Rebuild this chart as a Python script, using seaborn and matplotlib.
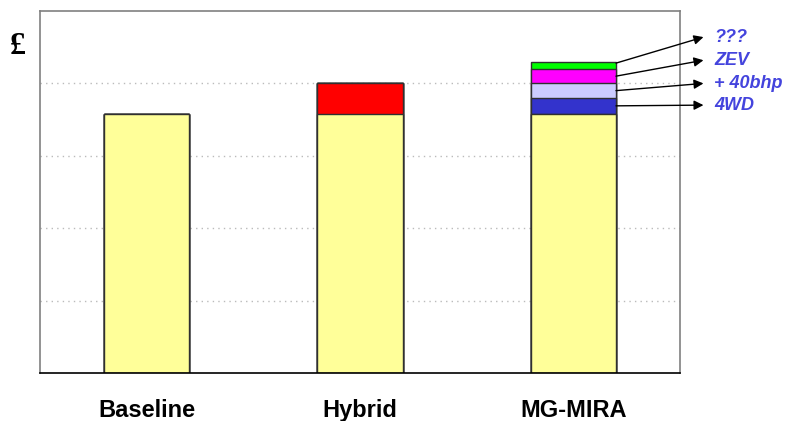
import pandas as pd
import seaborn as sns
import matplotlib.pyplot as plt

# chart data (arbitrary £ units)
categories = ['Baseline', 'Hybrid', 'MG-MIRA']
base_cost = [3.58, 3.58, 3.58]
hybrid_extra = [0.0, 0.42, 0.0]
wd4 = [0.0, 0.0, 0.22]
bhp40 = [0.0, 0.0, 0.20]
zev = [0.0, 0.0, 0.20]
unknown = [0.0, 0.0, 0.10]

addon_labels = ['4WD', '+ 40bhp', 'ZEV', '???']
label_y = [3.70, 4.00, 4.32, 4.64]

layers = [
    ('base', base_cost, '#FFFF99'),
    ('hybrid', hybrid_extra, '#FF0000'),
    ('4WD', wd4, '#3333CC'),
    ('+ 40bhp', bhp40, '#CCCCFF'),
    ('ZEV', zev, '#FF00FF'),
    ('???', unknown, '#00FF00'),
]

sns.set_style('white')
plt.rcParams['font.family'] = ['Liberation Sans', 'DejaVu Sans']
plt.rcParams['text.color'] = 'black'
plt.rcParams['xtick.color'] = 'black'

fig = plt.figure(figsize=(7.85, 4.21), dpi=100)
ax = fig.add_axes([40 / 785, 48 / 421, 640 / 785, 362 / 421])

# cumulative tops, drawn from the top layer down so lower layers cover them
df = pd.DataFrame({'cat': categories})
running = [0.0] * len(categories)
tops = []
for name, vals, col in layers:
    running = [r + v for r, v in zip(running, vals)]
    tops.append((name, list(running), col))

for name, top, col in reversed(tops):
    df['top'] = top
    sns.barplot(data=df, x='cat', y='top', color=col, width=0.4,
                edgecolor='#303030', linewidth=1, saturation=1, ax=ax)

# arrows + labels for the MG-MIRA add-ons
mg = categories.index('MG-MIRA')
bottoms = [base_cost[mg]]
for vals in [wd4, bhp40, zev]:
    bottoms.append(bottoms[-1] + vals[mg])
seg_h = [wd4[mg], bhp40[mg], zev[mg], unknown[mg]]
for lab, b, h, ty in zip(addon_labels, bottoms, seg_h, label_y):
    tail_y = b + h * 0.5 if lab != '???' else b + h * 0.8
    ax.annotate('', xy=(2.61, ty), xytext=(mg + 0.2, tail_y),
                arrowprops=dict(arrowstyle='-|>', color='black', lw=1,
                                mutation_scale=14, shrinkA=0, shrinkB=0),
                annotation_clip=False)
    ax.text(2.66, ty, lab, color='#4444DD', fontsize=13, fontweight='bold',
            fontstyle='italic', va='center', ha='left', clip_on=False)

ax.set_xlim(-0.5, 2.5)
ax.set_ylim(0, 5)
ax.set_yticks([1, 2, 3, 4])
ax.tick_params(axis='y', length=0, labelleft=False)
ax.yaxis.grid(True, linestyle=(0, (1, 3)), color='#BBBBBB', linewidth=1)
ax.set_axisbelow(True)

ax.set_xlabel('')
ax.set_ylabel('')
ax.set_xticks(range(len(categories)))
ax.set_xticklabels(categories, fontsize=17, fontweight='bold', color='black')
ax.tick_params(axis='x', which='major', length=0, pad=19)
ax.set_xticks([-0.5, 0.5, 1.5, 2.5], minor=True)
ax.tick_params(axis='x', which='minor', length=8, width=1, color='black',
               direction='out')

for side in ['top', 'left', 'right']:
    ax.spines[side].set_color('#808080')
    ax.spines[side].set_linewidth(1.2)
ax.spines['bottom'].set_color('black')
ax.spines['bottom'].set_linewidth(1.2)

fig.text(18 / 785, 1 - 47 / 421, '£', fontsize=23, fontweight='bold',
         family='Liberation Serif', color='black', ha='center', va='center')

fig.savefig('out.png', dpi=100)
